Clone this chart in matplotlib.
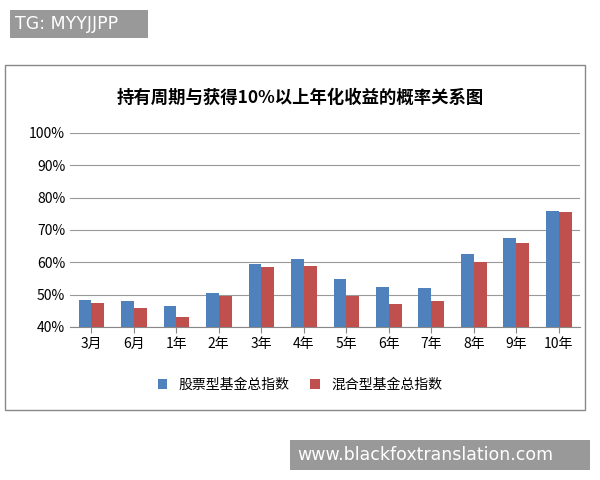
import matplotlib.pyplot as plt
import numpy as np
from matplotlib.patches import Rectangle

plt.rcParams['font.family'] = ['Noto Sans CJK SC', 'DejaVu Sans']

periods = ['3月', '6月', '1年', '2年', '3年', '4年', '5年', '6年', '7年', '8年', '9年', '10年']
stock = [48.5, 48, 46.5, 50.5, 59.5, 61, 55, 52.5, 52, 62.5, 67.5, 76]
hybrid = [47.5, 46, 43, 49.5, 58.5, 59, 49.5, 47, 48, 60, 66, 75.5]

fig = plt.figure(figsize=(6, 4.8), dpi=100)
# chart frame
fig.patches.append(Rectangle((5/600, 1-410/480), 580/600, 345/480, transform=fig.transFigure,
                             fill=False, edgecolor='#888888', lw=1))
ax = fig.add_axes([70/600, 1-327/480, 510/600, 194/480])
x = np.arange(len(periods))
w = 0.3
ax.bar(x - w/2, stock, w, color='#4F81BD', label='股票型基金总指数', zorder=3)
ax.bar(x + w/2, hybrid, w, color='#C0504D', label='混合型基金总指数', zorder=3)
ax.set_ylim(40, 100)
ax.set_xlim(-0.5, len(periods) - 0.5)
ax.set_yticks(range(40, 101, 10))
ax.set_yticklabels([f'{v}%' for v in range(40, 101, 10)], fontsize=10)
ax.set_xticks(x)
ax.set_xticklabels(periods, fontsize=10)
ax.grid(axis='y', color='#999999', lw=0.8, zorder=0)
for s in ['top', 'right', 'left']:
    ax.spines[s].set_visible(False)
ax.spines['bottom'].set_color('#888888')
ax.tick_params(axis='y', length=0)
ax.tick_params(axis='x', length=4, color='#888888')
fig.text(0.5, 1-98/480, '持有周期与获得10%以上年化收益的概率关系图', ha='center', va='center',
         fontsize=12.5, fontweight='bold')
fig.legend(loc='center', bbox_to_anchor=(0.5, 1-385/480), ncol=2, frameon=False,
           fontsize=10, handlelength=0.7, handleheight=0.7, columnspacing=1.5)
# watermarks
fig.patches.append(Rectangle((10/600, 1-38/480), 138/600, 28/480, transform=fig.transFigure,
                             fc='#999999', ec='none'))
fig.text(15/600, 1-24/480, 'TG: MYYJJPP', color='white', fontsize=12.5, va='center',
         family='DejaVu Sans')
fig.patches.append(Rectangle((290/600, 1-470/480), 300/600, 30/480, transform=fig.transFigure,
                             fc='#999999', ec='none'))
fig.text(297/600, 1-455/480, 'www.blackfoxtranslation.com', color='white', fontsize=12.5,
         va='center', family='DejaVu Sans')
fig.savefig('out.png')
